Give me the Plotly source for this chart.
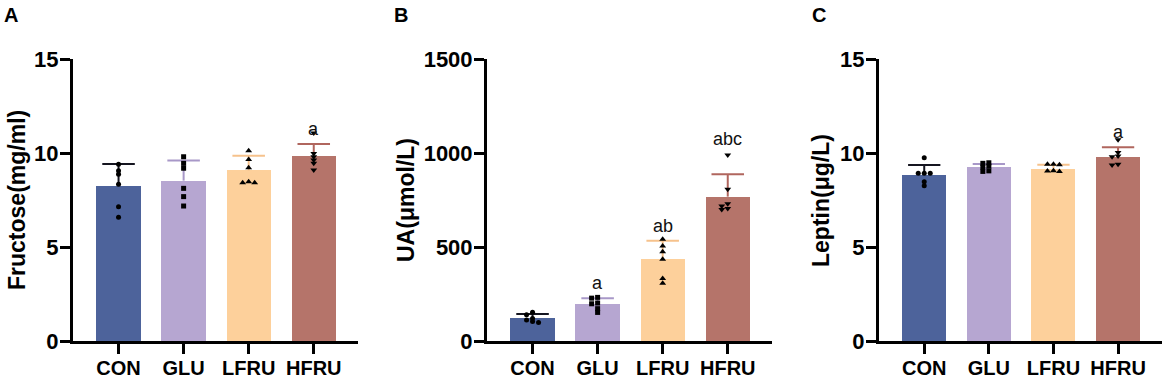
import plotly.graph_objects as go

# ---------------- data ----------------
groups = ["CON", "GLU", "LFRU", "HFRU"]

fructose_mean = [8.24, 8.53, 9.07, 9.86]
fructose_sd = [1.17, 1.07, 0.79, 0.62]
fructose_pts = [
    [9.40, 9.06, 8.87, 8.34, 7.14, 6.58],
    [9.80, 9.45, 9.19, 8.12, 7.68, 7.18],
    [10.12, 9.66, 9.22, 8.47, 8.42, 8.42],
    [11.06, 9.98, 9.80, 9.63, 9.45, 9.10],
]
fructose_sig = ["", "", "", "a"]

ua_mean = [121, 197, 435, 768]
ua_sd = [23, 30, 98, 119]
ua_pts = [
    [153, 140, 120, 112, 104, 98],
    [232, 228, 202, 198, 172, 152],
    [541, 505, 475, 435, 333, 307],
    [989, 807, 730, 718, 705, 700],
]
ua_sig = ["", "a", "ab", "abc"]

leptin_mean = [8.83, 9.24, 9.17, 9.80]
leptin_sd = [0.53, 0.17, 0.21, 0.50]
leptin_pts = [
    [9.75, 8.92, 8.92, 8.92, 8.47, 8.26],
    [9.48, 9.45, 9.30, 9.25, 9.05, 9.02],
    [9.40, 9.40, 9.38, 9.05, 9.04, 9.02],
    [10.70, 10.02, 9.84, 9.80, 9.40, 9.36],
]
leptin_sig = ["", "", "", "a"]

y_titles = ["Fructose(mg/ml)", "UA(μmol/L)", "Leptin(μg/L)"]
y_max = [15, 1500, 15]
y_ticks = [[0, 5, 10, 15], [0, 500, 1000, 1500], [0, 5, 10, 15]]
panel_letters = ["A", "B", "C"]

# ---------------- styles ----------------
W, H = 1170, 382
FONT = "Arial, Liberation Sans, sans-serif"
bar_colors = ["#4d639b", "#b6a6d1", "#fdd09b", "#b5746a"]
err_colors = ["#151520", "#a898c8", "#f6c28c", "#b0665e"]
symbols = ["circle", "square", "triangle-up", "triangle-down"]
msizes = [5, 5, 6, 6]

# pixel geometry of each panel (left, right) and vertical (top, bottom)
x_px = [(73, 358), (487, 772), (879, 1162)]
y_top, y_bot = 59, 341
x_range = [-0.70, 3.68]
title_x_px = [17, 406, 821]
letter_x_px = [11, 401, 819]

panels = [
    (fructose_mean, fructose_sd, fructose_pts, fructose_sig),
    (ua_mean, ua_sd, ua_pts, ua_sig),
    (leptin_mean, leptin_sd, leptin_pts, leptin_sig),
]

fig = go.Figure()
annotations = []
layout = {}


def swarm(vals, px_per_unit, px_per_cat):
    placed = []
    offs = []
    step = 6.0
    for v in vals:
        yp = v * px_per_unit
        for k in [0, -1, 1, -2, 2, -3, 3]:
            xp = k * step
            if all(not (abs(xp - a) < 5 and abs(yp - b) < 3) for a, b in placed):
                break
        placed.append((xp, yp))
        offs.append(xp / px_per_cat)
    return offs


for p, (means, sds, pts, sig) in enumerate(panels):
    xa = "x" if p == 0 else f"x{p+1}"
    ya = "y" if p == 0 else f"y{p+1}"
    xl, xr = x_px[p]
    px_per_cat = (xr - xl) / (x_range[1] - x_range[0])
    px_per_unit = (y_bot - y_top) / y_max[p]
    xs = list(range(len(groups)))

    fig.add_trace(go.Bar(
        x=xs, y=means, width=0.68, marker=dict(color=bar_colors, line=dict(width=0)),
        xaxis=xa, yaxis=ya, showlegend=False, hoverinfo="skip"))

    for i in xs:
        top = means[i] + sds[i]
        ex = [i, i, None, i - 0.25, i + 0.25]
        ey = [means[i], top, None, top, top]
        fig.add_trace(go.Scatter(
            x=ex, y=ey, mode="lines", line=dict(color=err_colors[i], width=2),
            xaxis=xa, yaxis=ya, showlegend=False, hoverinfo="skip"))

    for i in xs:
        offs = swarm(pts[i], px_per_unit, px_per_cat)
        fig.add_trace(go.Scatter(
            x=[i + o for o in offs], y=pts[i], mode="markers",
            marker=dict(symbol=symbols[i], size=msizes[i], color="black", line=dict(width=0)),
            xaxis=xa, yaxis=ya, showlegend=False, hoverinfo="skip"))

    for i in xs:
        if not sig[i]:
            continue
        err_top = means[i] + sds[i]
        mx = max(pts[i])
        if (mx - err_top) * px_per_unit > 15:
            anchor, shift = mx, 16
        else:
            anchor, shift = err_top, 15
        annotations.append(dict(
            x=i, y=anchor, xref=xa, yref=ya, text=sig[i], showarrow=False,
            yshift=shift, yanchor="middle", xanchor="center",
            font=dict(family=FONT, size=18, color="#111111")))

    common = dict(
        showline=True, linecolor="black", linewidth=3,
        ticks="outside", ticklen=10, tickwidth=3, tickcolor="black",
        showgrid=False, zeroline=False, fixedrange=True, automargin=False)
    layout["xaxis" if p == 0 else f"xaxis{p+1}"] = dict(
        domain=[xl / W, xr / W], range=x_range, anchor=ya,
        tickmode="array", tickvals=xs, ticktext=groups, ticklabelstandoff=-3,
        tickfont=dict(family=FONT, size=20, color="black", weight="bold"), **common)
    layout["yaxis" if p == 0 else f"yaxis{p+1}"] = dict(
        domain=[1 - y_bot / H, 1 - y_top / H], range=[0, y_max[p]], anchor=xa,
        tickmode="array", tickvals=y_ticks[p], ticktext=[str(t) for t in y_ticks[p]],
        ticklabelstandoff=-3,
        tickfont=dict(family=FONT, size=22, color="black", weight="bold"), **common)

    annotations.append(dict(
        x=title_x_px[p] / W, y=1 - (y_top + y_bot) / 2 / H, xref="paper", yref="paper",
        text=y_titles[p], textangle=-90, showarrow=False, xanchor="center", yanchor="middle",
        font=dict(family=FONT, size=23, color="black", weight="bold")))
    annotations.append(dict(
        x=letter_x_px[p] / W, y=1 - 15 / H, xref="paper", yref="paper",
        text=panel_letters[p], showarrow=False, xanchor="center", yanchor="middle",
        font=dict(family=FONT, size=20, color="black", weight="bold")))

fig.update_layout(
    width=W, height=H, margin=dict(l=0, r=0, t=0, b=0, autoexpand=False),
    paper_bgcolor="white", plot_bgcolor="white",
    annotations=annotations, bargap=0, **layout)

fig.write_html(
    "out.html",
    config={"displayModeBar": False, "staticPlot": True},
    post_script="document.body.style.margin='0';document.body.style.overflow='hidden';",
)
